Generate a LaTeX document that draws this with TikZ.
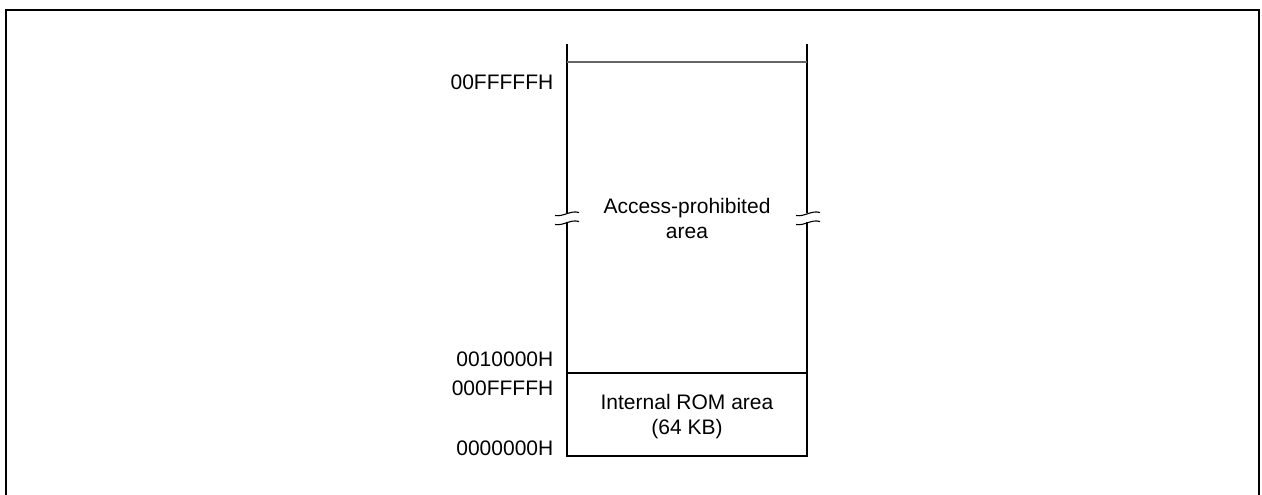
\documentclass[tikz,border=0pt]{standalone}
\usepackage{fontspec}
\setmainfont{Liberation Sans}
\usetikzlibrary{positioning}

\begin{document}
\begin{tikzpicture}[
    x=1pt, y=-1pt,
    frameline/.style={line width=2.6pt},
    wall/.style={line width=2.9pt, line join=miter},
    divider/.style={line width=1.1pt},
    breakmark/.style={line width=1.1pt},
    addr/.style={font=\fontsize{21}{25}\selectfont, anchor=base east, inner sep=0pt},
    areatext/.style={font=\fontsize{21}{25}\selectfont, align=center, inner sep=0pt}
]
\useasboundingbox (0,0) rectangle (1262,495);

% outer frame
\draw[frameline] (6,495) -- (6,10) -- (1259,10) -- (1259,495);

% memory map corners
\coordinate (mapTL) at (567,44);
\coordinate (mapTR) at (807,44);
\coordinate (mapBL) at (567,456);
\coordinate (mapBR) at (807,456);

% side walls, broken in the middle
\draw[wall] (mapTL) -- (567,213);
\draw[wall] (567,222) -- (mapBL) -- (mapBR) -- (807,222);
\draw[wall] (807,213) -- (mapTR);

% break marks
\foreach \bx in {567,808}
  \foreach \by in {213.5,222.5}
    \draw[breakmark] (\bx-12,\by+2) .. controls (\bx-3,\by+3.5) and (\bx+3,\by-3.5) .. (\bx+12,\by-1);

% dividers
\draw[divider, gray!80!black] (567,62) -- (807,62);
\draw[divider] (567,373) -- (807,373);

% areas
\node[areatext] (prohibited) at (687,218) {Access-prohibited\\area};
\node[areatext] (rom) at (687,417) {Internal ROM area\\(64 KB)};

% addresses
\node[addr] (aTop) at (553.5,90) {00FFFFFH};
\node[addr] (aProhib) at (553.5,366) {0010000H};
\node[addr] (aRomTop) at (553.5,395) {000FFFFH};
\node[addr] (aRomBot) at (553.5,455) {0000000H};
\end{tikzpicture}
\end{document}
